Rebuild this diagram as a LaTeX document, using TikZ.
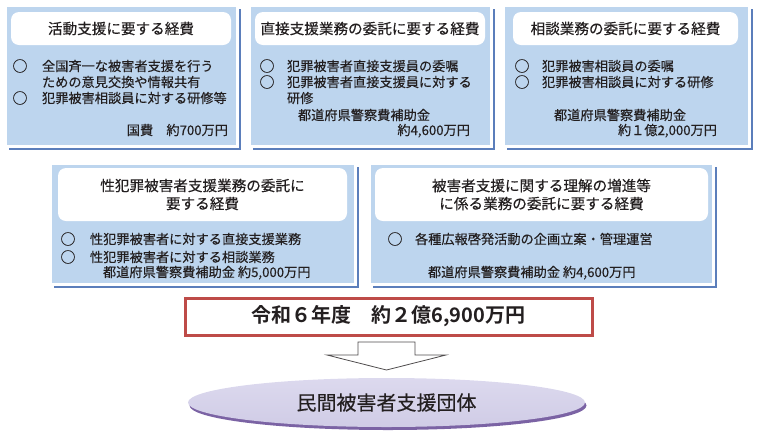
\documentclass[tikz,border=0pt]{standalone}
\usepackage{fontspec}
\setmainfont{Noto Sans CJK JP}[FakeBold=0.25, BoldFont={Noto Sans CJK JP Bold}, BoldFeatures={FakeBold=0}]
\usetikzlibrary{shadows,shapes.geometric}
\definecolor{boxfill}{HTML}{BDD5EE}
\definecolor{shblue}{HTML}{5B7EBB}
\definecolor{txt}{HTML}{231F20}
\definecolor{redline}{HTML}{BE4B48}
\definecolor{ellfill}{HTML}{D0CCE6}
\definecolor{elltop}{HTML}{DCD9EE}
\definecolor{ellshadow}{HTML}{7B63A4}
\newcommand\bodyfnt{\fontsize{13.2}{17}\selectfont}
\newcommand\headfnt{\fontsize{14.6}{18}\selectfont}
\begin{document}
\begin{tikzpicture}[x=1pt,y=-1pt,
  bluebox/.style={rectangle, anchor=north west, inner sep=0, outer sep=0,
    fill=boxfill, draw=white, line width=3pt,
    drop shadow={shadow xshift=3.5pt, shadow yshift=-3.5pt, fill=shblue, opacity=1}},
  headbox/.style={rectangle, rounded corners=8pt, fill=white, inner sep=0, outer sep=0,
    anchor=north west, font=\headfnt, align=center, text=txt},
  bodytext/.style={font=\bodyfnt, text=txt, inner sep=0, outer sep=0,
    text height=11.6pt, text depth=1.6pt, anchor=west},
  bullet/.style={font=\fontsize{15}{15}\selectfont, text=txt, inner sep=0, outer sep=0,
    text height=13.2pt, text depth=1.8pt, anchor=center},
  amount/.style={bodytext, anchor=east},
  redbox/.style={draw=redline, line width=3pt, fill=white, inner sep=0,
    font=\fontsize{20}{20}\selectfont\bfseries, text=txt},
  arrowshape/.style={draw=txt!80, line width=0.8pt, fill=white, line join=miter},
  orgell/.style={ellipse, inner sep=0, top color=elltop, bottom color=ellfill,
    drop shadow={shadow xshift=1.5pt, shadow yshift=-3pt, fill=ellshadow, opacity=1},
    font=\fontsize{20}{20}\selectfont, text=txt}
]
\useasboundingbox (0,0) rectangle (758,440);

% ---- row 1 boxes
\node[bluebox, minimum width=232pt, minimum height=141pt] (b1) at (5,5) {};
\node[bluebox, minimum width=242pt, minimum height=141pt] (b2) at (249,5) {};
\node[bluebox, minimum width=246pt, minimum height=141pt] (b3) at (503,5) {};
% ---- row 2 boxes
\node[bluebox, minimum width=305pt, minimum height=121pt] (b4) at (50,163) {};
\node[bluebox, minimum width=344pt, minimum height=121pt] (b5) at (369,163) {};

% ---- headers
\node[headbox, minimum width=220pt, minimum height=33pt] (h1) at (11,12) {活動支援に要する経費};
\node[headbox, minimum width=230pt, minimum height=33pt] (h2) at (255,12) {直接支援業務の委託に要する経費};
\node[headbox, minimum width=225pt, minimum height=33pt] (h3) at (513,12) {相談業務の委託に要する経費};
\node[headbox, minimum width=289pt, minimum height=53pt] (h4) at (58,168) {性犯罪被害者支援業務の委託に\\要する経費};
\node[headbox, minimum width=333pt, minimum height=53pt] (h5) at (375,168) {被害者支援に関する理解の増進等\\に係る業務の委託に要する経費};

% ---- box 1 body
\node[bullet] (c11) at (20,66) {○};
\node[bodytext] (t11) at (42,66) {全国斉一な被害者支援を行う};
\node[bodytext] (t12) at (42,82) {ための意見交換や情報共有};
\node[bullet] (c12) at (20,98) {○};
\node[bodytext] (t13) at (42,98) {犯罪被害相談員に対する研修等};
\node[amount] (a1) at (228,130) {国費　約700万円};

% ---- box 2 body
\node[bullet] (c21) at (267,66) {○};
\node[bodytext] (t21) at (287,66) {犯罪被害者直接支援員の委嘱};
\node[bullet] (c22) at (267,82) {○};
\node[bodytext] (t22) at (287,82) {犯罪被害者直接支援員に対する};
\node[bodytext] (t23) at (287,98) {研修};
\node[bodytext] (t24) at (298,115) {都道府県警察費補助金};
\node[amount] (a2) at (470,130) {約4,600万円};

% ---- box 3 body
\node[bullet] (c31) at (522,66) {○};
\node[bodytext] (t31) at (542,66) {犯罪被害相談員の委嘱};
\node[bullet] (c32) at (522,82) {○};
\node[bodytext] (t32) at (542,82) {犯罪被害相談員に対する研修};
\node[bodytext] (t33) at (554,115) {都道府県警察費補助金};
\node[amount] (a3) at (717,130) {約１億2,000万円};

% ---- box 4 body
\node[bullet] (c41) at (68,239) {○};
\node[bodytext] (t41) at (90,239) {性犯罪被害者に対する直接支援業務};
\node[bullet] (c42) at (68,257) {○};
\node[bodytext] (t42) at (90,257) {性犯罪被害者に対する相談業務};
\node[bodytext] (a4) at (103,272) {都道府県警察費補助金 約5,000万円};

% ---- box 5 body
\node[bullet] (c51) at (395,239) {○};
\node[bodytext] (t51) at (415,239) {各種広報啓発活動の企画立案・管理運営};
\node[bodytext] (a5) at (428,272) {都道府県警察費補助金 約4,600万円};

% ---- total
\node[redbox, minimum width=407pt, minimum height=37pt] (total) at (388.5,316.5) {令和６年度　約２億6,900万円};

% ---- arrow
\draw[arrowshape] (358,342) -- (415,342) -- (415,355) -- (446,355) -- (386.5,370)
  -- (327,355) -- (358,355) -- cycle;

% ---- organisation
\node[orgell, minimum width=397pt, minimum height=49pt] (org) at (386.5,402.5) {民間被害者支援団体};
\end{tikzpicture}
\end{document}
